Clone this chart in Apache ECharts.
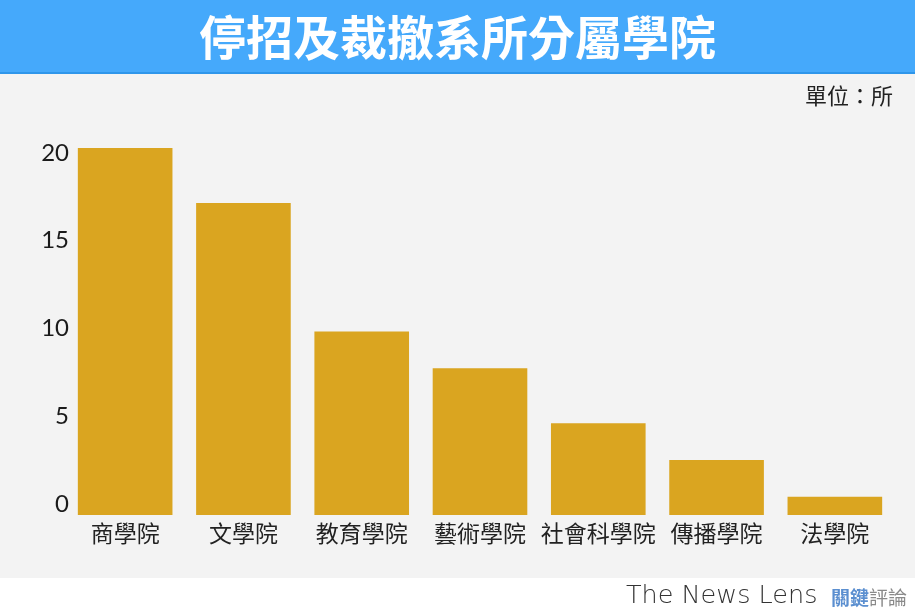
<!DOCTYPE html>
<html>
<head>
<meta charset="utf-8">
<script src="https://cdn.jsdelivr.net/npm/echarts@6/dist/echarts.min.js"></script>
<style>
  html, body { margin: 0; padding: 0; background: #fff; }
  #chart { width: 915px; height: 615px; }
</style>
</head>
<body>
<div id="chart"></div>
<script>
// 停招及裁撤系所分屬學院（單位：所）
const colleges = ['商學院', '文學院', '教育學院', '藝術學院', '社會科學院', '傳播學院', '法學院'];
const counts = [20, 17, 10, 8, 5, 3, 1];
const yTicks = [0, 5, 10, 15, 20];

const chart = echarts.init(document.getElementById('chart'));

const option = {
  animation: false,
  backgroundColor: '#fff',
  graphic: [
    {
      type: 'rect',
      z: -10,
      shape: { x: 0, y: 0, width: 915, height: 73 },
      style: { fill: '#45a9fb' },
    },
    {
      type: 'rect',
      z: -10,
      shape: { x: 0, y: 72, width: 915, height: 2 },
      style: { fill: '#2f96ea' },
    },
    {
      type: 'rect',
      z: -10,
      shape: { x: 0, y: 74, width: 915, height: 504 },
      style: { fill: '#f3f3f3' },
    },
    {
      type: 'text',
      right: 22,
      top: 85,
      style: {
        text: '單位：所',
        fill: '#222',
        font: '22px "Noto Sans CJK TC"',
      },
    },
    {
      type: 'text',
      left: 626,
      top: 583,
      style: {
        text: 'The News Lens',
        fill: '#333',
        font: '200 25.5px "DejaVu Sans"',
      },
    },
    {
      type: 'text',
      left: 831,
      top: 588,
      style: {
        text: '{a|關鍵}{b|評論}',
        rich: {
          a: { fill: '#5b8fd0', fontSize: 19, fontFamily: 'Noto Sans CJK TC', fontWeight: 'bold' },
          b: { fill: '#8a8a8a', fontSize: 19, fontFamily: 'Noto Sans CJK TC' },
        },
      },
    },
  ],
  title: {
    text: '停招及裁撤系所分屬學院',
    left: 'center',
    top: 9,
    textStyle: {
      color: '#fff',
      fontSize: 47,
      fontWeight: 'bold',
      fontFamily: 'Noto Sans CJK TC',
    },
  },
  grid: {
    left: 66,
    right: 21,
    top: 148,
    bottom: 100,
    containLabel: false,
  },
  xAxis: {
    type: 'category',
    data: colleges,
    axisLine: { show: false },
    axisTick: { show: false },
    axisLabel: {
      color: '#222',
      fontSize: 23,
      fontFamily: 'Noto Sans CJK TC',
      margin: 7,
      interval: 0,
    },
  },
  yAxis: [
    {
      type: 'value',
      min: 0,
      max: 20,
      axisLine: { show: false },
      axisTick: { show: false },
      axisLabel: { show: false },
      splitLine: { show: false },
    },
    {
      // 刻度文字在原圖略有偏移，用一條只放文字的軸來對齊
      type: 'value',
      position: 'left',
      min: -0.63,
      max: 20.28,
      axisLine: { show: false },
      axisTick: { show: false },
      splitLine: { show: false },
      axisLabel: {
        customValues: yTicks,
        color: '#1a1a1a',
        fontSize: 24,
        fontFamily: 'Lato',
        margin: -3,
      },
    },
  ],
  series: [
    {
      type: 'bar',
      data: counts,
      yAxisIndex: 0,
      barCategoryGap: '20%',
      itemStyle: { color: '#daa520' },
    },
  ],
};

chart.setOption(option);
</script>
</body>
</html>
